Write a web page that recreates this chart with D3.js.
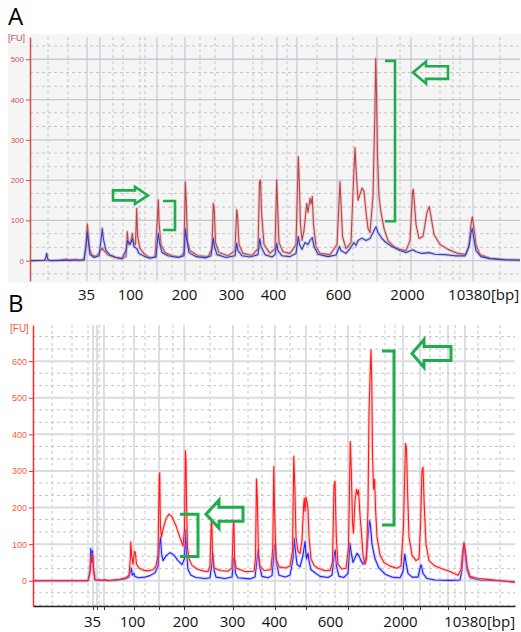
<!DOCTYPE html>
<html>
<head>
<meta charset="utf-8">
<script src="https://cdn.jsdelivr.net/npm/d3@7"></script>
<style>
  body { margin: 0; background: #fff; }
  svg { display: block; font-family: "Open Sans", sans-serif; }
</style>
</head>
<body>
<script>
// ---- data (t = migration position, fu = fluorescence units) ----

var sizeLabels = ["35", "100", "200", "300", "400", "600", "2000", "10380"]
var labelPosA = [86, 130, 184, 231, 273, 338, 407, 469]
var labelPosB = [92, 132, 185, 232, 274, 330, 400, 465]

var fuTicks = [0, 100, 200, 300, 400, 500, 600]
var fuDashA = [-33, 33, 67, 133, 167, 233, 267, 333, 367, 433, 467, 533]
var fuDashB = [-67, -33, 33, 67, 133, 167, 233, 267, 333, 367, 433, 467, 533, 567, 633, 667]

var tSolidA = [87, 100, 157, 185, 233, 277, 297, 337, 377, 411, 473]
var tDashA = [48, 68, 113, 123, 140, 145, 172, 200, 215, 253, 262, 287, 317, 353, 400, 440, 453, 460, 500]
var tSolidB = [93, 97, 104, 134, 159, 184, 233, 275, 306, 348, 403, 420, 448, 465]
var tDashB = [52, 72, 88, 99, 123, 145, 173, 210, 248, 262, 290, 320, 335, 360, 385, 395, 430, 440, 455, 478, 500]

var redA = [[30,0],[60,1],[67,4],[69,0],[76,3],[78,0],[84,2],[86,40],[87.3,91],[88.2,70],[89.5,30],[92,14],[96,10],[100,22],[102,31],[104,25],[108,14],[115,8],[122,5],[126,10],[127.3,72],[128.5,40],[131,50],[132.3,68],[133.5,45],[135.5,40],[136.7,130],[137.6,60],[140,30],[145,15],[150,8],[155,8],[157.3,100],[158.3,151],[159.2,90],[161,40],[165,20],[172,12],[180,9],[184,20],[185.3,195],[186.2,150],[187.5,50],[190,25],[198,12],[208,10],[212,30],[213.3,142],[214.2,130],[215.5,45],[219,20],[228,12],[235,25],[236.7,126],[237.6,110],[239,40],[243,18],[252,13],[258,30],[259.5,195],[260.5,200],[261.5,120],[264,40],[270,18],[275,30],[276.7,200],[277.7,130],[279,45],[283,22],[290,18],[296,40],[298.3,258],[299.2,200],[300.5,90],[302,50],[304,75],[306.7,142],[308,120],[310,155],[311,140],[312.3,159],[313.5,90],[316,35],[320,18],[330,15],[337,40],[339.3,160],[340,196],[341,140],[342.5,60],[346,30],[351,45],[353.5,200],[355,280],[356,230],[358,150],[360,165],[362,180],[364,172],[366,120],[368,80],[370,70],[373,160],[375,380],[375.7,502],[376.5,420],[377.5,260],[379,160],[381,120],[384,80],[388,50],[394,35],[400,28],[406,25],[410,50],[412.5,170],[413.3,177],[414.5,140],[416,90],[419,55],[423,60],[427,120],[429.3,134],[431,110],[434,65],[440,40],[448,28],[458,18],[466,15],[469,40],[471,90],[472.3,109],[473.5,90],[476,40],[480,15],[490,6],[505,3],[520,2]]

var blueA = [[30,0],[44,1],[45.5,5],[46.7,18],[47.7,4],[50,0],[84,2],[86,35],[87.3,72],[88.3,50],[90,15],[94,8],[99,12],[101,50],[102.3,80],[103.3,55],[106,25],[110,14],[116,8],[122,5],[126,25],[127.5,50],[130,40],[132.5,55],[134,35],[136.7,30],[139,18],[145,10],[150,6],[156,10],[157.5,50],[158.3,68],[159.5,45],[162,20],[168,12],[178,8],[184,12],[185.3,80],[186.5,55],[189,20],[196,10],[206,7],[211,12],[213.3,56],[214.5,35],[217,15],[226,8],[235,12],[236.7,43],[238,25],[242,12],[250,9],[258,15],[259.8,55],[261,35],[265,15],[272,9],[275,15],[276.7,43],[278,25],[282,12],[290,10],[296,18],[298.3,60],[299.5,40],[302,28],[305,45],[308,40],[310,50],[312.3,57],[314,35],[318,16],[328,10],[336,14],[339.5,35],[341,25],[346,18],[350,30],[354,45],[356,38],[358,50],[362,56],[366,50],[370,55],[374,75],[376,84],[378,70],[382,55],[386,45],[392,35],[400,25],[406,20],[411,25],[413,27],[416,22],[422,18],[429,20],[435,16],[445,15],[455,12],[465,12],[469,35],[471,70],[472.3,80],[473.5,60],[476,25],[481,10],[490,5],[505,2],[520,1]]

var redB = [[33,0],[88,0],[90,20],[91,65],[91.7,50],[92.5,72],[93.5,30],[95,2],[103,1],[105,3],[107,0],[113,2],[120,4],[126,8],[129,15],[130.3,60],[130.8,106],[131.6,70],[133,45],[134.3,80],[135.3,78],[136.5,45],[139,35],[143,29],[148,27],[153,30],[156,40],[158,70],[159.2,280],[159.7,295],[160.4,150],[161.5,120],[163,140],[166,170],[169,182],[172,175],[176,150],[180,118],[183,95],[184.5,140],[185.4,355],[186,330],[186.6,200],[187.5,90],[189,60],[192,42],[197,32],[203,27],[208,25],[210,40],[211.3,160],[211.8,166],[212.6,60],[214,35],[220,28],[228,26],[232,35],[233.3,150],[233.8,165],[234.6,60],[236,35],[245,25],[254,26],[255.5,60],[256.5,278],[257.3,230],[258.5,70],[260,40],[264,28],[271,30],[272.8,90],[273.8,312],[274.5,200],[276,60],[279,38],[285,35],[290,40],[292.5,80],[293.8,340],[294.8,260],[296,120],[298,80],[300,75],[302,110],[303.5,200],[304.3,225],[305,190],[306,228],[307,215],[308,195],[309,120],[311,60],[314,42],[318,34],[324,28],[330,28],[332.5,50],[334,260],[335,272],[336.3,120],[338,45],[342,32],[346,34],[348.5,90],[350.3,380],[351.3,300],[352.5,160],[353.5,130],[355,220],[356.5,250],[357.5,235],[358.5,248],[360,180],[361.5,130],[363,70],[365,45],[366.5,60],[368,200],[369,460],[370.2,570],[371,630],[371.8,540],[372.5,350],[373.5,250],[374.6,278],[375.5,200],[377,120],[380,70],[384,50],[390,40],[397,34],[401,40],[403.5,150],[405.5,375],[406.5,360],[407.5,250],[409,120],[412,70],[416,55],[419,60],[420.5,150],[422,300],[423,310],[424.2,210],[426,100],[429,55],[435,40],[442,33],[450,25],[458,15],[461,30],[463,85],[464.2,102],[465.5,80],[467,40],[470,12],[478,6],[490,3],[500,0],[515,-4]]

var blueB = [[33,0],[88,0],[90,30],[90.8,88],[91.7,60],[92.5,82],[93.5,35],[95,3],[103,1],[106,2],[110,0],[118,2],[125,5],[129,10],[130.5,25],[131.3,35],[132.3,15],[133.8,20],[135,12],[138,8],[145,10],[150,14],[155,22],[158,40],[159.5,100],[160.5,120],[161.5,75],[163,55],[166,68],[170,77],[174,70],[178,55],[182,44],[184.5,60],[185.6,140],[186.5,80],[188,30],[191,15],[196,9],[205,6],[210,8],[212,50],[213,75],[214,30],[216,10],[225,6],[232,10],[233.5,60],[234.3,64],[235.5,20],[238,8],[250,5],[255,10],[257.5,70],[258.3,84],[259.5,40],[262,12],[268,8],[272,14],[274.5,95],[275.3,102],[276.5,50],[279,15],[285,10],[290,15],[293,60],[294.3,116],[295.5,80],[297,45],[300,38],[303,70],[305,107],[306.5,60],[308,75],[309,55],[311,30],[315,22],[320,12],[328,9],[332,15],[334.3,75],[335.3,84],[336.5,40],[339,12],[344,9],[348,20],[350,102],[351,80],[353,50],[355,62],[357,75],[359,68],[361,55],[363,45],[366,60],[368,120],[369.5,164],[370.5,150],[372,100],[375,60],[379,35],[385,18],[392,10],[400,8],[403,25],[404.8,73],[406,50],[408,20],[412,10],[418,10],[420.5,40],[421.3,43],[423,20],[427,6],[435,2],[450,1],[460,2],[462,30],[463.8,104],[465,75],[467,30],[470,8],[480,2],[500,0],[515,-3]]

// annotations, in data units
var arrowsA = [{ tail: 113, base: 135, tip: 148, fu: 162, head: 8.5, body: 5 },
               { tail: 448, base: 426, tip: 413, fu: 467, head: 11, body: 6.3 }]
var bracketsA = [{ t0: 163, t1: 175, top: 148, bottom: 76 },
                 { t0: 385, t1: 395, top: 496, bottom: 98 }]
var arrowsB = [{ tail: 243, base: 219, tip: 206, fu: 182, head: 14, body: 7 },
               { tail: 451, base: 424, tip: 412, fu: 621, head: 14, body: 7 }]
var bracketsB = [{ t0: 180, t1: 198, top: 182, bottom: 66 },
                 { t0: 382, t1: 394, top: 628, bottom: 152 }]

// ---- drawing ----

var svg = d3.select("body").append("svg").attr("width", 521).attr("height", 632)

function panel(o) {

  var x = d3.scaleLinear().domain(o.tDomain).range(o.xRange)
  var y = d3.scaleLinear().domain(o.fuDomain).range(o.yRange)
  var top = o.yRange[1], bottom = o.yRange[0]
  var left = o.xRange[0], right = o.xRange[1]

  var g = svg.append("g")

  if (o.bg) {
    g.append("rect")
      .attr("x", 8).attr("y", top - 3)
      .attr("width", 513).attr("height", bottom - top + 5)
      .attr("fill", o.bg)
  }

  // grid
  g.selectAll(".hdash").data(o.fuDash).enter().append("line")
    .attr("x1", left).attr("x2", right)
    .attr("y1", d => y(d)).attr("y2", d => y(d))
    .attr("stroke", "#c4c4c4").attr("stroke-dasharray", "3,3")

  g.selectAll(".vdash").data(o.tDash).enter().append("line")
    .attr("x1", d => x(d)).attr("x2", d => x(d))
    .attr("y1", top).attr("y2", bottom)
    .attr("stroke", "#c4c4c4").attr("stroke-dasharray", "3,3")

  g.selectAll(".vsolid").data(o.tSolid).enter().append("line")
    .attr("x1", d => x(d)).attr("x2", d => x(d))
    .attr("y1", top).attr("y2", bottom)
    .attr("stroke", "#c5c9d6").attr("stroke-width", 1.2)

  g.selectAll(".hsolid").data(fuTicks.filter(d => d <= o.fuDomain[1])).enter().append("line")
    .attr("x1", left).attr("x2", right)
    .attr("y1", d => y(d)).attr("y2", d => y(d))
    .attr("stroke", o.hSolidColor).attr("stroke-width", o.hSolidWidth)

  // traces
  g.append("clipPath").attr("id", "clip" + o.name)
    .append("rect")
    .attr("x", left).attr("y", top)
    .attr("width", right - left).attr("height", bottom - top)

  var line = d3.line().x(d => x(d[0])).y(d => y(d[1]))
  var traces = g.append("g").attr("clip-path", "url(#clip" + o.name + ")")

  o.series.forEach(function(s) {
    traces.append("path").datum(s.data)
      .attr("d", line).attr("fill", "none")
      .attr("stroke", s.halo).attr("stroke-width", 3.2)
      .attr("stroke-linejoin", "round").attr("opacity", 0.45)
    traces.append("path").datum(s.data)
      .attr("d", line).attr("fill", "none")
      .attr("stroke", s.color).attr("stroke-width", 1.1)
      .attr("stroke-linejoin", "round")
  })

  // y axis
  var yAxis = d3.axisLeft(y)
    .tickValues(fuTicks.filter(d => d <= o.fuDomain[1]))
    .tickSize(4).tickSizeOuter(0).tickPadding(2)

  var ya = g.append("g")
    .attr("transform", "translate(" + left + ",0)")
    .call(yAxis)
  ya.select(".domain").attr("stroke", o.axisColor).attr("stroke-width", 1.5)
  ya.selectAll(".tick line").attr("stroke", o.axisColor)
  ya.selectAll(".tick text")
    .attr("fill", o.labelColor)
    .style("font-size", o.yFont + "px")
    .style("font-family", "'Liberation Sans', sans-serif")

  g.append("text")
    .attr("x", o.fuLabel[0]).attr("y", o.fuLabel[1])
    .attr("fill", o.labelColor)
    .style("font-size", o.yFont + 1 + "px")
    .style("font-family", "'Liberation Sans', sans-serif")
    .text("[FU]")

  // x axis (line + ticks for B)
  if (o.xAxisLine) {
    var xTicks = d3.axisBottom(x).tickValues(o.tSolid)
      .tickSize(4).tickSizeOuter(0).tickFormat("")
    var xa = g.append("g")
      .attr("transform", "translate(0," + bottom + ")")
      .call(xTicks)
    xa.select(".domain").attr("stroke", "#222").attr("stroke-width", 1.3)
    xa.selectAll(".tick line").attr("stroke", "#333")
  }

  // size labels
  var labelAxis = d3.axisBottom(x)
    .tickValues(o.labelPos)
    .tickFormat((d, i) => sizeLabels[i])
    .tickSize(0).tickPadding(o.labelPad)

  var la = g.append("g")
    .attr("transform", "translate(0," + bottom + ")")
    .call(labelAxis)
  la.select(".domain").remove()
  la.selectAll(".tick text")
    .attr("fill", "#111")
    .style("font-size", "15px")
    .style("font-family", "'Open Sans', sans-serif")

  var last = la.selectAll(".tick text").filter((d, i) => i === sizeLabels.length - 1)
  var w = last.node().getComputedTextLength()
  last.attr("text-anchor", "start").attr("x", -w / 2)
  last.append("tspan").text("[bp]")

  // panel letter
  svg.append("text")
    .attr("x", 8).attr("y", o.letterY)
    .style("font-size", "24px")
    .style("font-family", "'Open Sans', sans-serif")
    .attr("fill", "#000")
    .text(o.name)

  // annotations
  var green = "#1fab4e"
  g.selectAll(".arrow").data(o.arrows).enter().append("path")
    .attr("d", function(a) {
      var cy = y(a.fu), x0 = x(a.tail), xb = x(a.base), xt = x(a.tip)
      return "M" + x0 + "," + (cy - a.body) + "H" + xb + "V" + (cy - a.head) +
        "L" + xt + "," + cy + "L" + xb + "," + (cy + a.head) +
        "V" + (cy + a.body) + "H" + x0 + "Z"
    })
    .attr("fill", "none").attr("stroke", green)
    .attr("stroke-width", o.annWidth).attr("stroke-linejoin", "miter")

  g.selectAll(".bracket").data(o.brackets).enter().append("path")
    .attr("d", b => "M" + x(b.t0) + "," + y(b.top) + "H" + x(b.t1) +
      "V" + y(b.bottom) + "H" + x(b.t0))
    .attr("fill", "none").attr("stroke", green)
    .attr("stroke-width", o.annWidth)
}

panel({
  name: "A",
  tDomain: [30, 520], xRange: [30, 520],
  fuDomain: [-50, 555], yRange: [280.8, 37.1],
  bg: "#f5f5f5",
  fuDash: fuDashA, tDash: tDashA, tSolid: tSolidA,
  hSolidColor: "#c8c9d3", hSolidWidth: 1.3,
  axisColor: "#c8504f", labelColor: "#cc5555", yFont: 8,
  fuLabel: [8, 41],
  labelPos: labelPosA, labelPad: 9,
  letterY: 25,
  xAxisLine: false,
  arrows: arrowsA, brackets: bracketsA, annWidth: 2.6,
  series: [
    { data: redA, color: "#b8454a", halo: "#e2a2a4" },
    { data: blueA, color: "#3a3ab4", halo: "#a0a0dc" }
  ]
})

panel({
  name: "B",
  tDomain: [33, 515], xRange: [33, 515],
  fuDomain: [-69, 699], yRange: [606, 324.9],
  bg: null,
  fuDash: fuDashB, tDash: tDashB, tSolid: tSolidB,
  hSolidColor: "#d9dce5", hSolidWidth: 2,
  axisColor: "#ff2a2a", labelColor: "#ff5a3a", yFont: 9,
  fuLabel: [10, 332],
  labelPos: labelPosB, labelPad: 10,
  letterY: 312,
  xAxisLine: true,
  arrows: arrowsB, brackets: bracketsB, annWidth: 3,
  series: [
    { data: blueB, color: "#2020ff", halo: "#9f9fff" },
    { data: redB, color: "#ff1a1a", halo: "#ffa0a0" }
  ]
})
</script>
</body>
</html>
